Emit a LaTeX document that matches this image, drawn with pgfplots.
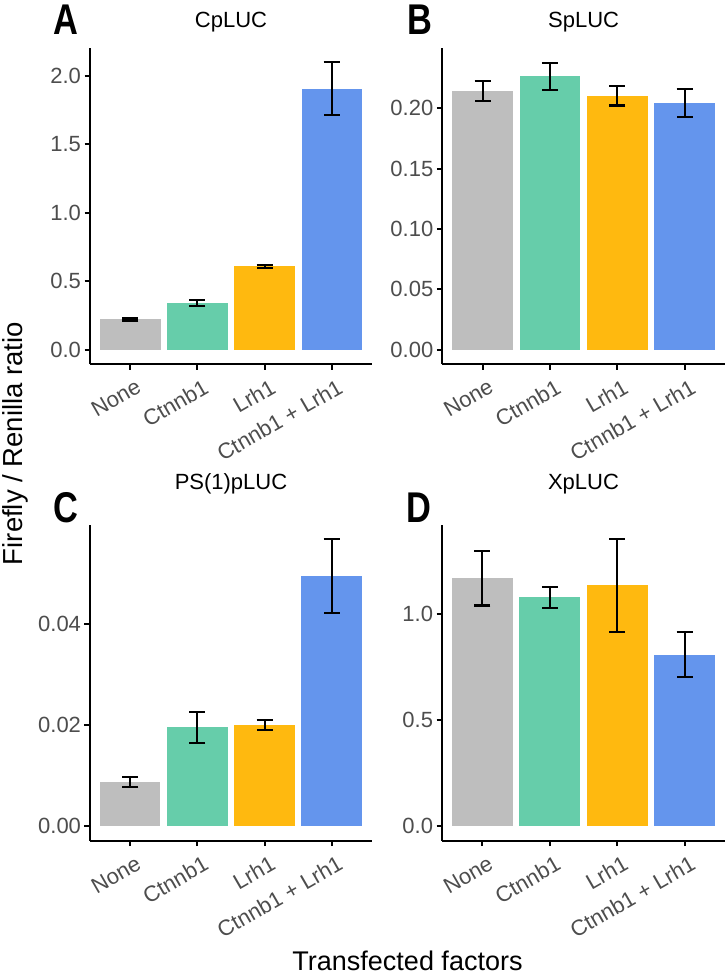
\documentclass[border=0pt]{standalone}
\usepackage{pgfplots}
\pgfplotsset{compat=1.18}
\usepackage{graphicx}
\usepackage{fontspec}
\setmainfont{Liberation Sans}
\definecolor{cgrey}{HTML}{BEBEBE}
\definecolor{cgreen}{HTML}{66CDAA}
\definecolor{corange}{HTML}{FFB90F}
\definecolor{cblue}{HTML}{6495ED}
\definecolor{gray30}{HTML}{4D4D4D}
\newcommand{\tickfont}{\fontsize{22bp}{26bp}\selectfont}
\newcommand{\letfont}{\fontsize{43bp}{43bp}\selectfont\bfseries}
\pgfplotsset{
  panel/.style={
    scale only axis,
    axis x line*=bottom, axis y line*=left,
    axis line style={line width=1.9bp, black},
    xmin=0.4, xmax=4.6,
    xtick={1,2,3,4},
    xticklabels={None,Ctnnb1,Lrh1,Ctnnb1 + Lrh1},
    tick align=outside,
    major tick length=5.5bp,
    tick style={line width=1.9bp, black},
    x tick label style={xshift=5bp, yshift=-7bp, rotate=30, anchor=north east, font=\tickfont, text=gray30, inner sep=1bp},
    y tick label style={font=\tickfont, text=gray30},
    scaled y ticks=false,
    /pgf/number format/.cd, fixed, fixed zerofill, assume math mode=true,
    /pgfplots/.cd,
    title style={at={(0.5,1)}, anchor=base, yshift=15bp, font=\tickfont},
    clip=false,
  },
  bars/.style={ybar, bar width=0.9, bar shift=0pt, draw=none, fill=#1,
    error bars/.cd, y dir=both, y explicit,
    error bar style={line width=2.1bp, black},
    error mark options={rotate=90, mark size=8bp, line width=2.1bp, black}},
}
\begin{document}
\begin{tikzpicture}
% Panel A
\begin{axis}[panel, at={(90bp,-364bp)}, anchor=south west,
  width=282bp, height=316bp,
  ymin=-0.105, ymax=2.205, ytick={0,0.5,1,1.5,2},
  yticklabel style={/pgf/number format/precision=1},
  title={CpLUC}]
\addplot[bars=cgrey] coordinates {(1,0.222) +- (0,0.009)};
\addplot[bars=cgreen] coordinates {(2,0.340) +- (0,0.020)};
\addplot[bars=corange] coordinates {(3,0.608) +- (0,0.010)};
\addplot[bars=cblue] coordinates {(4,1.908) +- (0,0.195)};
\end{axis}
% Panel B
\begin{axis}[panel, at={(442.3bp,-364bp)}, anchor=south west,
  width=282.7bp, height=316bp,
  ymin=-0.0119, ymax=0.2499, ytick={0,0.05,0.1,0.15,0.2},
  yticklabel style={/pgf/number format/precision=2},
  title={SpLUC}]
\addplot[bars=cgrey] coordinates {(1,0.2143) +- (0,0.0084)};
\addplot[bars=cgreen] coordinates {(2,0.2265) +- (0,0.0112)};
\addplot[bars=corange] coordinates {(3,0.2102) +- (0,0.0079)};
\addplot[bars=cblue] coordinates {(4,0.2042) +- (0,0.0114)};
\end{axis}
% Panel C
\begin{axis}[panel, at={(90bp,-840.7bp)}, anchor=south west,
  width=282bp, height=315.7bp,
  ymin=-0.002835, ymax=0.059535, ytick={0,0.02,0.04},
  yticklabel style={/pgf/number format/precision=2},
  title style={yshift=14.5bp},
  title={PS(1)pLUC}]
\addplot[bars=cgrey] coordinates {(1,0.00877) +- (0,0.00098)};
\addplot[bars=cgreen] coordinates {(2,0.01958) +- (0,0.0031)};
\addplot[bars=corange] coordinates {(3,0.02003) +- (0,0.00096)};
\addplot[bars=cblue] coordinates {(4,0.0494) +- (0,0.0073)};
\end{axis}
% Panel D
\begin{axis}[panel, at={(442bp,-840.7bp)}, anchor=south west,
  width=283bp, height=315.7bp,
  ymin=-0.0677, ymax=1.4217, ytick={0,0.5,1},
  yticklabel style={/pgf/number format/precision=1},
  title style={yshift=14.5bp},
  title={XpLUC}]
\addplot[bars=cgrey] coordinates {(1,1.170) +- (0,0.128)};
\addplot[bars=cgreen] coordinates {(2,1.080) +- (0,0.050)};
\addplot[bars=corange] coordinates {(3,1.137) +- (0,0.218)};
\addplot[bars=cblue] coordinates {(4,0.810) +- (0,0.106)};
\end{axis}
% panel letters
\node[anchor=base, inner sep=0pt] at (65.5bp,-34bp) {\scalebox{0.8}[1]{\letfont A}};
\node[anchor=base, inner sep=0pt] at (419.5bp,-34bp) {\scalebox{0.8}[1]{\letfont B}};
\node[anchor=base, inner sep=0pt] at (65.5bp,-522bp) {\scalebox{0.8}[1]{\letfont C}};
\node[anchor=base, inner sep=0pt] at (419bp,-522bp) {\scalebox{0.8}[1]{\letfont D}};
% axis titles
\node[rotate=90, anchor=base, inner sep=0pt] at (22bp,-443.5bp) {\fontsize{27.5bp}{30bp}\selectfont Firefly / Renilla ratio};
\node[anchor=base, inner sep=0pt] at (407.5bp,-970bp) {\fontsize{27bp}{30bp}\selectfont Transfected factors};
\pgfresetboundingbox
\useasboundingbox (0,0) rectangle (725bp,-974bp);
\end{tikzpicture}
\end{document}
